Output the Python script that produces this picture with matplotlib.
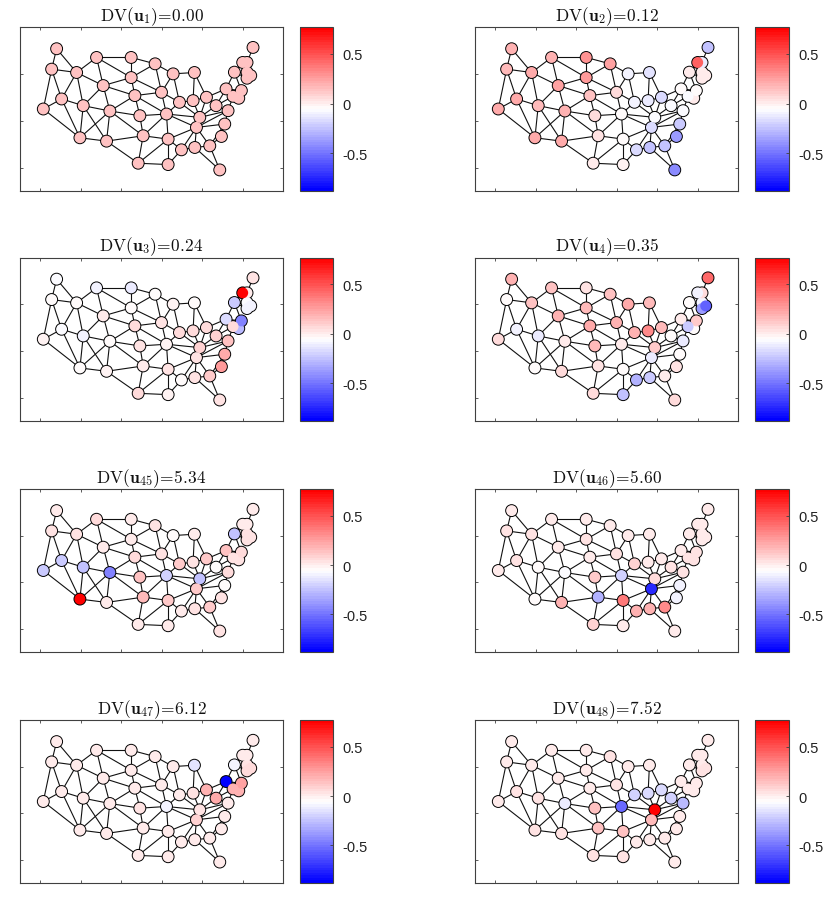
import numpy as np
import matplotlib
matplotlib.use("Agg")
import matplotlib.pyplot as plt
from matplotlib.colors import LinearSegmentedColormap, Normalize
from matplotlib.cm import ScalarMappable

plt.rcParams['mathtext.fontset'] = 'cm'

states = ["WA","OR","CA","NV","ID","MT","WY","UT","AZ","NM","CO","ND","SD","NE","KS","OK","TX","MN","IA","MO",
          "AR","LA","WI","IL","MI","IN","OH","KY","TN","MS","AL","GA","FL","SC","NC","VA","WV","PA","NY","MD",
          "DE","NJ","CT","RI","MA","VT","NH","ME"]
lon = [-120.95,-122.18,-124.24,-119.72,-116.01,-111.08,-109.43,-114.37,-115.19,-108.61,-107.79,-102.52,-102.52,-101.61,-100.38,-99.56,-100.79,-96.60,-95.03,-93.80,
       -93.39,-93.39,-92.15,-90.59,-86.89,-87.22,-83.92,-85.57,-86.39,-90.10,-86.80,-83.10,-80.63,-80.22,-79.40,-78.58,-81.54,-79.07,-77.01,-77.34,
       -75.94,-75.29,-73.89,-72.98,-73.89,-74.96,-73.89,-72.41]
lat = [55.36,51.0,42.5,44.64,50.29,53.5,47.5,43.21,36.36,35.64,42.07,53.5,49.21,45.36,41.07,36.79,30.93,52.14,46.07,41.43,
       36.07,30.64,50.0,43.93,50.29,44.29,45.0,40.71,38.57,33.79,34.29,34.64,29.5,36.64,39.29,42.14,43.21,46.79,50.36,45.21,
       44.79,46.43,49.07,49.64,50.36,52.43,52.43,55.64]
edges = """WA-OR WA-ID OR-ID OR-NV OR-CA CA-NV CA-AZ NV-ID NV-UT NV-AZ ID-MT ID-WY ID-UT MT-ND MT-SD MT-WY WY-SD WY-NE WY-CO WY-UT
UT-CO UT-AZ UT-NM AZ-NM AZ-CO CO-NM CO-NE CO-KS CO-OK NM-OK NM-TX ND-SD ND-MN SD-MN SD-IA SD-NE NE-IA NE-MO NE-KS KS-MO KS-OK OK-MO OK-AR OK-TX
TX-AR TX-LA MN-WI MN-IA IA-WI IA-IL IA-MO WI-IL WI-MI MO-IL MO-KY MO-TN MO-AR AR-TN AR-MS AR-LA LA-MS IL-KY IL-IN IN-KY IN-OH IN-MI MI-OH OH-KY OH-WV OH-PA
KY-WV KY-VA KY-TN TN-VA TN-NC TN-GA TN-AL TN-MS MS-AL AL-GA AL-FL GA-FL GA-SC GA-NC SC-NC NC-VA VA-WV VA-MD WV-MD WV-PA PA-NY PA-NJ PA-MD PA-DE NJ-DE NJ-NY MD-DE
NY-VT NY-MA NY-CT VT-NH VT-MA NH-MA NH-ME MA-RI MA-CT CT-RI""".split()
draw_last = ["DE","NJ","MD","MA","CT","RI","NH","VT","ME"]

u1 = [0.144]*48
u2 = [.2,.17,.22,.22,.22,.2,.25,.16,.22,.22,.2,.3,.27,.14,.07,.03,.02,.24,.05,-.05,
      -.03,-.02,-.1,-.09,-.14,-.13,-.16,-.08,-.18,-.16,-.24,-.26,-.42,-.38,-.22,-.06,-.06,-.04,0,-.08,
      0,-.04,.02,.02,0,.45,-.12,-.25]
u3 = [-.08,-.04,-.01,-.08,-.05,-.1,0,-.09,-.05,-.02,-.05,-.12,-.03,.05,.03,.01,.06,-.04,.03,-.01,
      .03,-.02,-.02,.07,-.03,.07,.05,.09,.04,-.03,.03,.12,.04,.28,.22,.14,.08,-.17,-.23,.06,
      -.28,-.45,-.09,-.09,-.08,.77,0,.03]
u4 = [.19,-.05,.05,-.09,.13,.14,.2,-.12,-.04,.07,0,.03,.16,.22,.17,.03,.06,.13,.2,0,
      -.05,-.25,.22,.2,.17,.32,.17,.11,-.12,-.3,-.22,.01,.05,.04,-.05,-.13,-.03,0,-.05,-.22,
      -.05,.1,-.38,-.55,-.1,-.1,.07,.42]
u45 = [0,.03,-.22,-.22,.04,.05,.01,-.24,.77,.02,-.45,.02,.02,.05,.13,.16,.01,.03,.03,-.2,
       .1,.01,-.03,.1,0,.03,.11,-.25,.1,.02,.04,.1,.03,.03,-.05,.07,-.05,.14,-.24,.04,
       .04,.06,.03,.03,.04,0,0,.02]
u46 = [0,.03,.01,.03,.03,.02,.02,-.05,-.05,.2,-.08,.02,.03,0,.11,-.3,.08,.01,.03,-.2,
       .38,.02,0,.08,0,.02,.02,.05,-.75,.18,.2,.33,.02,-.1,-.1,.03,.03,.02,0,.04,
       .04,.03,.02,.02,.02,.02,.02,.02]
u47 = [.02,.02,.02,.02,.02,.02,.02,.02,.02,.02,.02,.02,.02,.02,.03,.02,.02,.02,.02,-.09,
       .02,.02,.02,.02,-.14,.03,.2,.04,.08,.02,.02,.02,.02,.02,.02,.02,.22,-.88,-.1,.2,
       .2,.24,.06,.06,.04,0,.02,.02]
u48 = [.02,.01,0,.03,.02,.02,.02,.03,.03,.04,-.12,.02,.02,0,.14,.15,.03,.03,.03,-.52,
       .13,.03,.01,-.2,.01,-.16,-.18,.77,.17,.02,.01,.02,.02,.02,.02,-.27,-.2,.02,.02,.02,
       .02,.02,.03,.03,.02,.02,.02,.02]
signals = [u1,u2,u3,u4,u45,u46,u47,u48]
indices = [1,2,3,4,45,46,47,48]
dv = ["0.00","0.12","0.24","0.35","5.34","5.60","6.12","7.52"]
cbar_ticks = [-0.5,0,0.5]
cbar_labels = ["-0.5","0","0.5"]
vmin, vmax = -0.88, 0.77

W, H = 830, 904
cmap = LinearSegmentedColormap.from_list("bwr64", ["#0000ff","#ffffff","#ff0000"], N=64)
norm = Normalize(vmin, vmax)
col_ax = [20, 475]
col_cb = [299.5, 755]
rows = [(28,192),(258.5,422),(490,653),(721,884)]
frame = "#404040"

pos = {s:i for i,s in enumerate(states)}
order = [i for i,s in enumerate(states) if s not in draw_last] + [pos[s] for s in draw_last]
x = np.array(lon); y = np.array(lat)

fig = plt.figure(figsize=(W/100, H/100), dpi=100)
for k,(u,idx,d) in enumerate(zip(signals,indices,dv)):
    r, c = k//2, k%2
    top, bot = rows[r]
    ax = fig.add_axes([col_ax[c]/W, 1-bot/H, 263/W, (bot-top)/H])
    for e in edges:
        a,b = e.split('-')
        ax.plot([x[pos[a]],x[pos[b]]],[y[pos[a]],y[pos[b]]],color='#111111',lw=0.8,zorder=1,solid_capstyle='round')
    ax.scatter(x,y,s=86,c=np.zeros(len(x)),cmap='gray',vmin=0,vmax=1,linewidths=0,zorder=2,snap=False)
    v = np.array(u)
    ax.scatter(x[order],y[order],s=62,c=v[order],cmap=cmap,norm=norm,linewidths=0,zorder=3,snap=False)
    ax.set_xlim(-130,-65); ax.set_ylim(25,60)
    ax.set_xticks(np.arange(-125,-70,10)); ax.set_yticks([30,40,50])
    ax.tick_params(direction='in',length=2.2,width=0.6,top=True,right=True,bottom=True,left=True,
                   labelbottom=False,labelleft=False,color=frame)
    for sp in ax.spines.values():
        sp.set_linewidth(0.8); sp.set_color(frame)
    ax.set_title(r'$\mathrm{DV}(\mathbf{u}_{%d})\!=\!%s$'%(idx,d),fontsize=12.5,pad=5,color='#111111')

    cax = fig.add_axes([col_cb[c]/W, 1-bot/H, 33.5/W, (bot-top)/H])
    cb = fig.colorbar(ScalarMappable(norm=norm,cmap=cmap),cax=cax)
    cb.set_ticks(cbar_ticks); cb.set_ticklabels(cbar_labels)
    cb.ax.tick_params(direction='in',length=2.2,width=0.6,color=frame,labelsize=10.5,pad=7,labelcolor='#222222')
    for lab in cb.ax.get_yticklabels():
        lab.set_fontfamily('Liberation Sans')
    cb.outline.set_linewidth(0.8); cb.outline.set_edgecolor(frame)

fig.savefig("out.png",dpi=100)
